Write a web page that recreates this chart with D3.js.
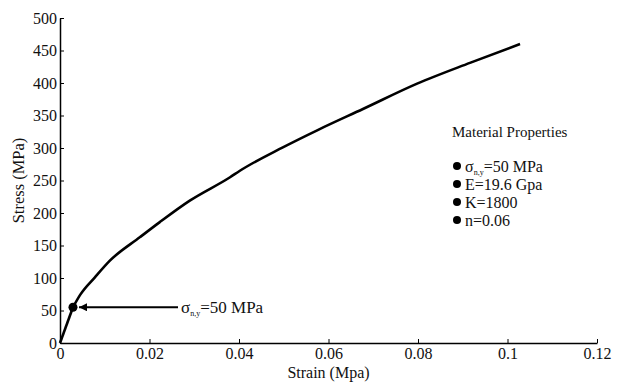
<!DOCTYPE html>
<html>
<head>
<meta charset="utf-8">
<script src="https://cdn.jsdelivr.net/npm/d3@7"></script>
<style>
  body { margin: 0; background: #fff; }
  svg { font-family: "Liberation Serif", "Times New Roman", serif; }
</style>
</head>
<body>
<svg id="chart"></svg>
<script>
// stress-strain curve
const strain = [0, 0.0029, 0.0045, 0.0078, 0.0112, 0.0179, 0.0223, 0.029, 0.038, 0.0402, 0.0498, 0.0577, 0.0677, 0.0798, 0.0916, 0.1028];
const stress = [0, 55, 74, 101, 127, 163, 186, 219, 255, 265, 301, 328, 360, 399, 431, 460];
const xTicks = [0, 0.02, 0.04, 0.06, 0.08, 0.1, 0.12];
const yTicks = [0, 50, 100, 150, 200, 250, 300, 350, 400, 450, 500];
const yieldPoint = { strain: 0.0029, stress: 55 };
const propTitle = "Material Properties";
const props = [
    { main: "σ", sub: "n,y", rest: "=50 MPa" },
    { main: "E=19.6 Gpa" },
    { main: "K=1800" },
    { main: "n=0.06" }
];

const width = 618, height = 382;
const svg = d3.select("#chart").attr("width", width).attr("height", height);
const margin = { top: 18, right: 21, bottom: 39, left: 60 };

const x = d3.scaleLinear().domain([0, 0.12]).range([margin.left, width - margin.right]);
const y = d3.scaleLinear().domain([0, 500]).range([height - margin.bottom, margin.top]);

const fmt = d => d === 0 ? "0" : String(d);

svg.append("g")
    .attr("transform", `translate(0,${y(0)})`)
    .call(d3.axisBottom(x).tickValues(xTicks).tickFormat(fmt).tickSizeInner(-4).tickSizeOuter(0).tickPadding(5))
    .call(g => g.select(".domain").attr("stroke-width", 1.5))
    .call(g => g.selectAll("text").attr("font-size", 16).attr("font-family", "Liberation Serif").attr("fill", "#111"));

svg.append("g")
    .attr("transform", `translate(${x(0)},0)`)
    .call(d3.axisLeft(y).tickValues(yTicks).tickFormat(fmt).tickSizeInner(-4).tickSizeOuter(0).tickPadding(3))
    .call(g => g.select(".domain").attr("stroke-width", 1.5))
    .call(g => g.selectAll("text").attr("font-size", 16).attr("font-family", "Liberation Serif").attr("fill", "#111"));

svg.append("text")
    .attr("x", (x(0) + x(0.12)) / 2).attr("y", height - 4)
    .attr("text-anchor", "middle").attr("font-size", 16).attr("fill", "#111")
    .text("Strain (Mpa)");

svg.append("text")
    .attr("transform", `translate(24,${(y(0) + y(500)) / 2}) rotate(-90)`)
    .attr("text-anchor", "middle").attr("font-size", 16.5).attr("fill", "#111")
    .text("Stress (MPa)");

const pts = strain.map((s, i) => [s, stress[i]]);
svg.append("path")
    .datum(pts.slice(0, 2))
    .attr("fill", "none").attr("stroke", "#000").attr("stroke-width", 2.6)
    .attr("d", d3.line().x(d => x(d[0])).y(d => y(d[1])));
svg.append("path")
    .datum(pts.slice(1))
    .attr("fill", "none").attr("stroke", "#000").attr("stroke-width", 2.6)
    .attr("d", d3.line().curve(d3.curveMonotoneX).x(d => x(d[0])).y(d => y(d[1])));

svg.append("circle")
    .attr("cx", x(yieldPoint.strain)).attr("cy", y(yieldPoint.stress))
    .attr("r", 4.5).attr("fill", "#000");

// arrow to the yield point
svg.append("defs").append("marker")
    .attr("id", "arr").attr("viewBox", "0 0 10 10").attr("refX", 10).attr("refY", 5)
    .attr("markerWidth", 5).attr("markerHeight", 4).attr("orient", "auto")
    .attr("markerUnits", "strokeWidth")
    .append("path").attr("d", "M0,0 L10,5 L0,10 z").attr("fill", "#000");

svg.append("line")
    .attr("x1", 178).attr("y1", y(yieldPoint.stress))
    .attr("x2", x(yieldPoint.strain) + 6).attr("y2", y(yieldPoint.stress))
    .attr("stroke", "#000").attr("stroke-width", 2)
    .attr("marker-end", "url(#arr)");

const ann = svg.append("text").attr("x", 181).attr("y", y(yieldPoint.stress) + 6)
    .attr("font-size", 17).attr("fill", "#111");
ann.append("tspan").text("σ");
ann.append("tspan").attr("font-size", 8).attr("dy", 3).text("n,y");
ann.append("tspan").attr("dy", -3).text("=50 MPa");

// properties box
svg.append("text").attr("x", 452).attr("y", 137)
    .attr("font-size", 15).attr("fill", "#111").text(propTitle);

const rows = svg.append("g").selectAll("g").data(props).join("g")
    .attr("transform", (d, i) => `translate(457,${166 + i * 18})`);
rows.append("circle").attr("r", 4).attr("fill", "#000");
rows.each(function (d) {
    const t = d3.select(this).append("text").attr("x", 8).attr("y", 5.5)
        .attr("font-size", 16).attr("fill", "#111");
    t.append("tspan").text(d.main);
    if (d.sub) {
        t.append("tspan").attr("font-size", 8).attr("dy", 3).text(d.sub);
        t.append("tspan").attr("dy", -3).text(d.rest);
    }
});
</script>
</body>
</html>
